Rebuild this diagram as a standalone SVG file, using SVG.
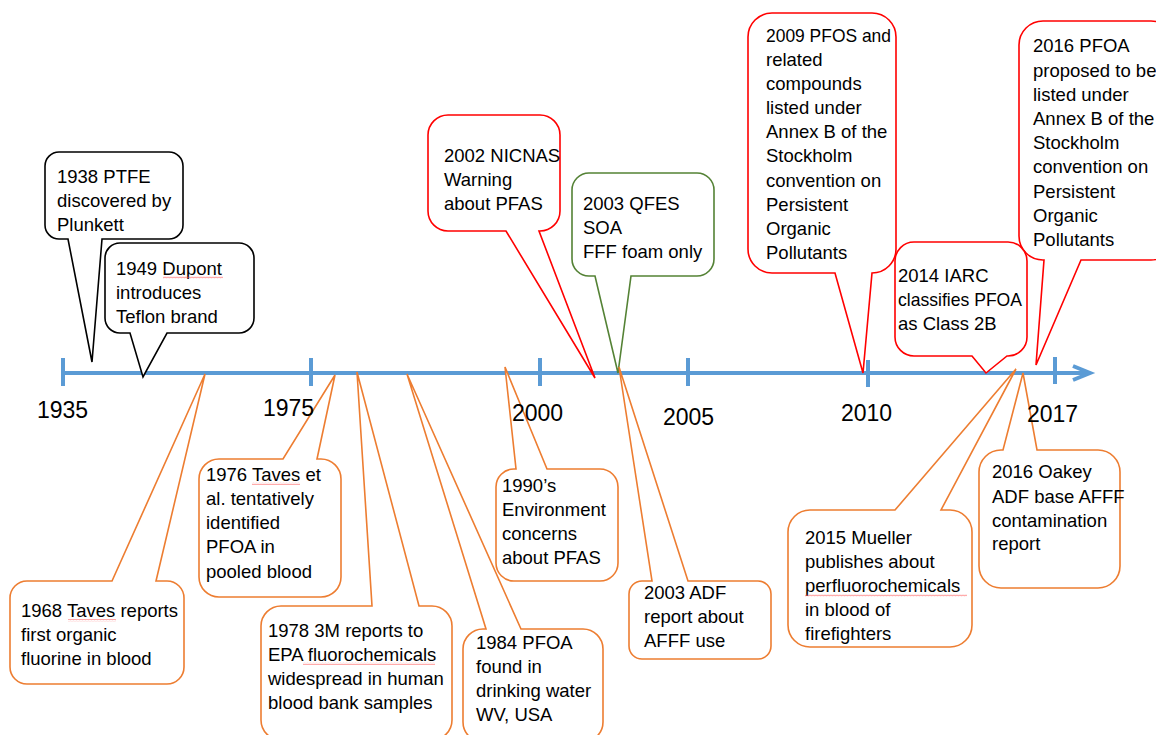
<svg xmlns="http://www.w3.org/2000/svg" width="1156" height="735" viewBox="0 0 1156 735">
<defs>
<style>
.ax{stroke:#5B9BD5;stroke-width:4;fill:none}
.yr{font-family:"Liberation Sans",Arial,sans-serif;font-size:23px;fill:#000}
.t{font-family:"Liberation Sans",Arial,sans-serif;font-size:18.5px;fill:#000}
.blk{fill:#fff;stroke:#000;stroke-width:1.6}
.red{fill:#fff;stroke:#FF0000;stroke-width:1.6}
.grn{fill:#fff;stroke:#548235;stroke-width:1.6}
.org{fill:#fff;stroke:#ED7D31;stroke-width:1.6}
.sq{fill:url(#squig)}
</style>
<pattern id="squig" patternUnits="userSpaceOnUse" width="3" height="3">
<polyline points="0,2.2 0.75,0.8 1.5,2.2 2.25,0.8 3,2.2" fill="none" stroke="#FF5050" stroke-width="0.45"/>
</pattern>
</defs>
<rect width="1156" height="735" fill="#fff"/>
<g id="connectors">
<line class="ax" x1="63" y1="373" x2="1088" y2="373"/>
<polyline class="ax" points="1073,366 1090,373 1073,380"/>
<line class="ax" x1="63" y1="358" x2="63" y2="386"/>
<line class="ax" x1="311" y1="358" x2="311" y2="386"/>
<line class="ax" x1="540" y1="358" x2="540" y2="386"/>
<line class="ax" x1="688" y1="358" x2="688" y2="386"/>
<line class="ax" x1="868" y1="360" x2="868" y2="387"/>
<line class="ax" x1="1055" y1="357" x2="1055" y2="384"/>
</g>
<g id="c1938">
<path class="blk" d="M59,152 H169 A14,14 0 0 1 183,166 V225 A14,14 0 0 1 169,239 H102 L92,362 L68,239 H59 A14,14 0 0 1 45,225 V166 A14,14 0 0 1 59,152 Z"/>
<text class="t" x="57" y="183">1938 PTFE</text>
<text class="t" x="57" y="207">discovered by</text>
<text class="t" x="57" y="231">Plunkett</text>
</g>
<g id="c1949">
<path class="blk" d="M120,243 H239 A15,15 0 0 1 254,258 V318 A15,15 0 0 1 239,333 H167 L143,377 L130,333 H120 A15,15 0 0 1 105,318 V258 A15,15 0 0 1 120,243 Z"/>
<text class="t" x="116" y="275">1949 Dupont</text>
<text class="t" x="116" y="299">introduces</text>
<text class="t" x="116" y="323">Teflon brand</text>
<rect class="sq" x="163" y="276" width="60" height="3"/>
</g>
<g id="c2002">
<path class="red" d="M448,115 H540 A20,20 0 0 1 560,135 V211 A20,20 0 0 1 540,231 H539 L595,378 L506,231 H448 A20,20 0 0 1 428,211 V135 A20,20 0 0 1 448,115 Z"/>
<text class="t" x="444" y="162">2002 NICNAS</text>
<text class="t" x="444" y="186">Warning</text>
<text class="t" x="444" y="210">about PFAS</text>
</g>
<g id="c2003q">
<path class="grn" d="M589,173 H697 A17,17 0 0 1 714,190 V259 A17,17 0 0 1 697,276 H631 L618,373 L595,276 H589 A17,17 0 0 1 572,259 V190 A17,17 0 0 1 589,173 Z"/>
<text class="t" x="583" y="210">2003 QFES</text>
<text class="t" x="583" y="234">SOA</text>
<text class="t" x="583" y="258">FFF foam only</text>
</g>
<g id="c2009">
<path class="red" d="M772,13 H872 A24,24 0 0 1 896,37 V249 A24,24 0 0 1 872,273 H872 L863,373 L835,273 H772 A24,24 0 0 1 748,249 V37 A24,24 0 0 1 772,13 Z"/>
<text class="t" x="766" y="42" textLength="125" lengthAdjust="spacingAndGlyphs">2009 PFOS and</text>
<text class="t" x="766" y="66">related</text>
<text class="t" x="766" y="90">compounds</text>
<text class="t" x="766" y="114">listed under</text>
<text class="t" x="766" y="138">Annex B of the</text>
<text class="t" x="766" y="162">Stockholm</text>
<text class="t" x="766" y="187">convention on</text>
<text class="t" x="766" y="211">Persistent</text>
<text class="t" x="766" y="235">Organic</text>
<text class="t" x="766" y="259">Pollutants</text>
</g>
<g id="c2016p">
<path class="red" d="M1043,21 H1151 A24,24 0 0 1 1175,45 V236 A24,24 0 0 1 1151,260 H1081 L1036,365 L1044,260 H1043 A24,24 0 0 1 1019,236 V45 A24,24 0 0 1 1043,21 Z"/>
<text class="t" x="1033" y="52">2016 PFOA</text>
<text class="t" x="1033" y="77">proposed to be</text>
<text class="t" x="1033" y="101">listed under</text>
<text class="t" x="1033" y="125">Annex B of the</text>
<text class="t" x="1033" y="149">Stockholm</text>
<text class="t" x="1033" y="173">convention on</text>
<text class="t" x="1033" y="198">Persistent</text>
<text class="t" x="1033" y="222">Organic</text>
<text class="t" x="1033" y="246">Pollutants</text>
</g>
<g id="c2014">
<path class="red" d="M914,242 H1008 A19,19 0 0 1 1027,261 V337 A19,19 0 0 1 1008,356 H1007 L986,373 L972,356 H914 A19,19 0 0 1 895,337 V261 A19,19 0 0 1 914,242 Z"/>
<text class="t" x="898" y="282">2014 IARC</text>
<text class="t" x="898" y="306" textLength="124" lengthAdjust="spacingAndGlyphs">classifies PFOA</text>
<text class="t" x="898" y="330">as Class 2B</text>
</g>
<g id="c1968">
<path class="org" d="M27,581 H112 L205,374 L156,581 H167 A17,17 0 0 1 184,598 V667 A17,17 0 0 1 167,684 H27 A17,17 0 0 1 10,667 V598 A17,17 0 0 1 27,581 Z"/>
<text class="t" x="21" y="617">1968 Taves reports</text>
<text class="t" x="21" y="641">first organic</text>
<text class="t" x="21" y="665">fluorine in blood</text>
<rect class="sq" x="68" y="619" width="48" height="3"/>
</g>
<g id="c1976">
<path class="org" d="M219,459 H283 L335,375 L317,459 H321 A20,20 0 0 1 341,479 V577 A20,20 0 0 1 321,597 H219 A20,20 0 0 1 199,577 V479 A20,20 0 0 1 219,459 Z"/>
<text class="t" x="206" y="481">1976 Taves et</text>
<text class="t" x="206" y="505">al. tentatively</text>
<text class="t" x="206" y="529">identified</text>
<text class="t" x="206" y="553">PFOA in</text>
<text class="t" x="206" y="578">pooled blood</text>
<rect class="sq" x="252" y="482" width="48" height="3"/>
</g>
<g id="c1978">
<path class="org" d="M281,606 H372 L357,372 L419,606 H432 A20,20 0 0 1 452,626 V720 A20,20 0 0 1 432,740 H281 A20,20 0 0 1 261,720 V626 A20,20 0 0 1 281,606 Z"/>
<text class="t" x="268" y="637">1978 3M reports to</text>
<text class="t" x="268" y="661">EPA fluorochemicals</text>
<text class="t" x="268" y="685">widespread in human</text>
<text class="t" x="268" y="709">blood bank samples</text>
<rect class="sq" x="303" y="662" width="132" height="3"/>
</g>
<g id="c1984">
<path class="org" d="M483,629 H486 L407,374 L521,629 H583 A20,20 0 0 1 603,649 V722 A20,20 0 0 1 583,742 H483 A20,20 0 0 1 463,722 V649 A20,20 0 0 1 483,629 Z"/>
<text class="t" x="476" y="649">1984 PFOA</text>
<text class="t" x="476" y="673">found in</text>
<text class="t" x="476" y="697">drinking water</text>
<text class="t" x="476" y="721">WV, USA</text>
</g>
<g id="c1990">
<path class="org" d="M514,469 H516 L505,367 L547,469 H600 A18,18 0 0 1 618,487 V563 A18,18 0 0 1 600,581 H514 A18,18 0 0 1 496,563 V487 A18,18 0 0 1 514,469 Z"/>
<text class="t" x="502" y="492">1990’s</text>
<text class="t" x="502" y="516">Environment</text>
<text class="t" x="502" y="540">concerns</text>
<text class="t" x="502" y="564">about PFAS</text>
</g>
<g id="c2003a">
<path class="org" d="M642,581 H652 L619,367 L688,581 H758 A13,13 0 0 1 771,594 V646 A13,13 0 0 1 758,659 H642 A13,13 0 0 1 629,646 V594 A13,13 0 0 1 642,581 Z"/>
<text class="t" x="644" y="599">2003 ADF</text>
<text class="t" x="644" y="623">report about</text>
<text class="t" x="644" y="647">AFFF use</text>
</g>
<g id="c2015">
<path class="org" d="M810,510 H895 L1016,369 L941,510 H950 A22,22 0 0 1 972,532 V625 A22,22 0 0 1 950,647 H810 A22,22 0 0 1 788,625 V532 A22,22 0 0 1 810,510 Z"/>
<text class="t" x="805" y="544">2015 Mueller</text>
<text class="t" x="805" y="568">publishes about</text>
<text class="t" x="805" y="592">perfluorochemicals</text>
<text class="t" x="805" y="616">in blood of</text>
<text class="t" x="805" y="640">firefighters</text>
<rect class="sq" x="805" y="594" width="162" height="3"/>
</g>
<g id="c2016o">
<path class="org" d="M1001,450 H1003 L1023,373 L1037,450 H1098 A22,22 0 0 1 1120,472 V566 A22,22 0 0 1 1098,588 H1001 A22,22 0 0 1 979,566 V472 A22,22 0 0 1 1001,450 Z"/>
<text class="t" x="992" y="478">2016 Oakey</text>
<text class="t" x="992" y="503">ADF base AFFF</text>
<text class="t" x="992" y="527">contamination</text>
<text class="t" x="992" y="550">report</text>
</g>
<g id="years">
<text class="yr" x="37" y="418">1935</text>
<text class="yr" x="263" y="416">1975</text>
<text class="yr" x="512" y="421">2000</text>
<text class="yr" x="663" y="425">2005</text>
<text class="yr" x="841" y="421">2010</text>
<text class="yr" x="1027" y="422">2017</text>
</g>
</svg>
